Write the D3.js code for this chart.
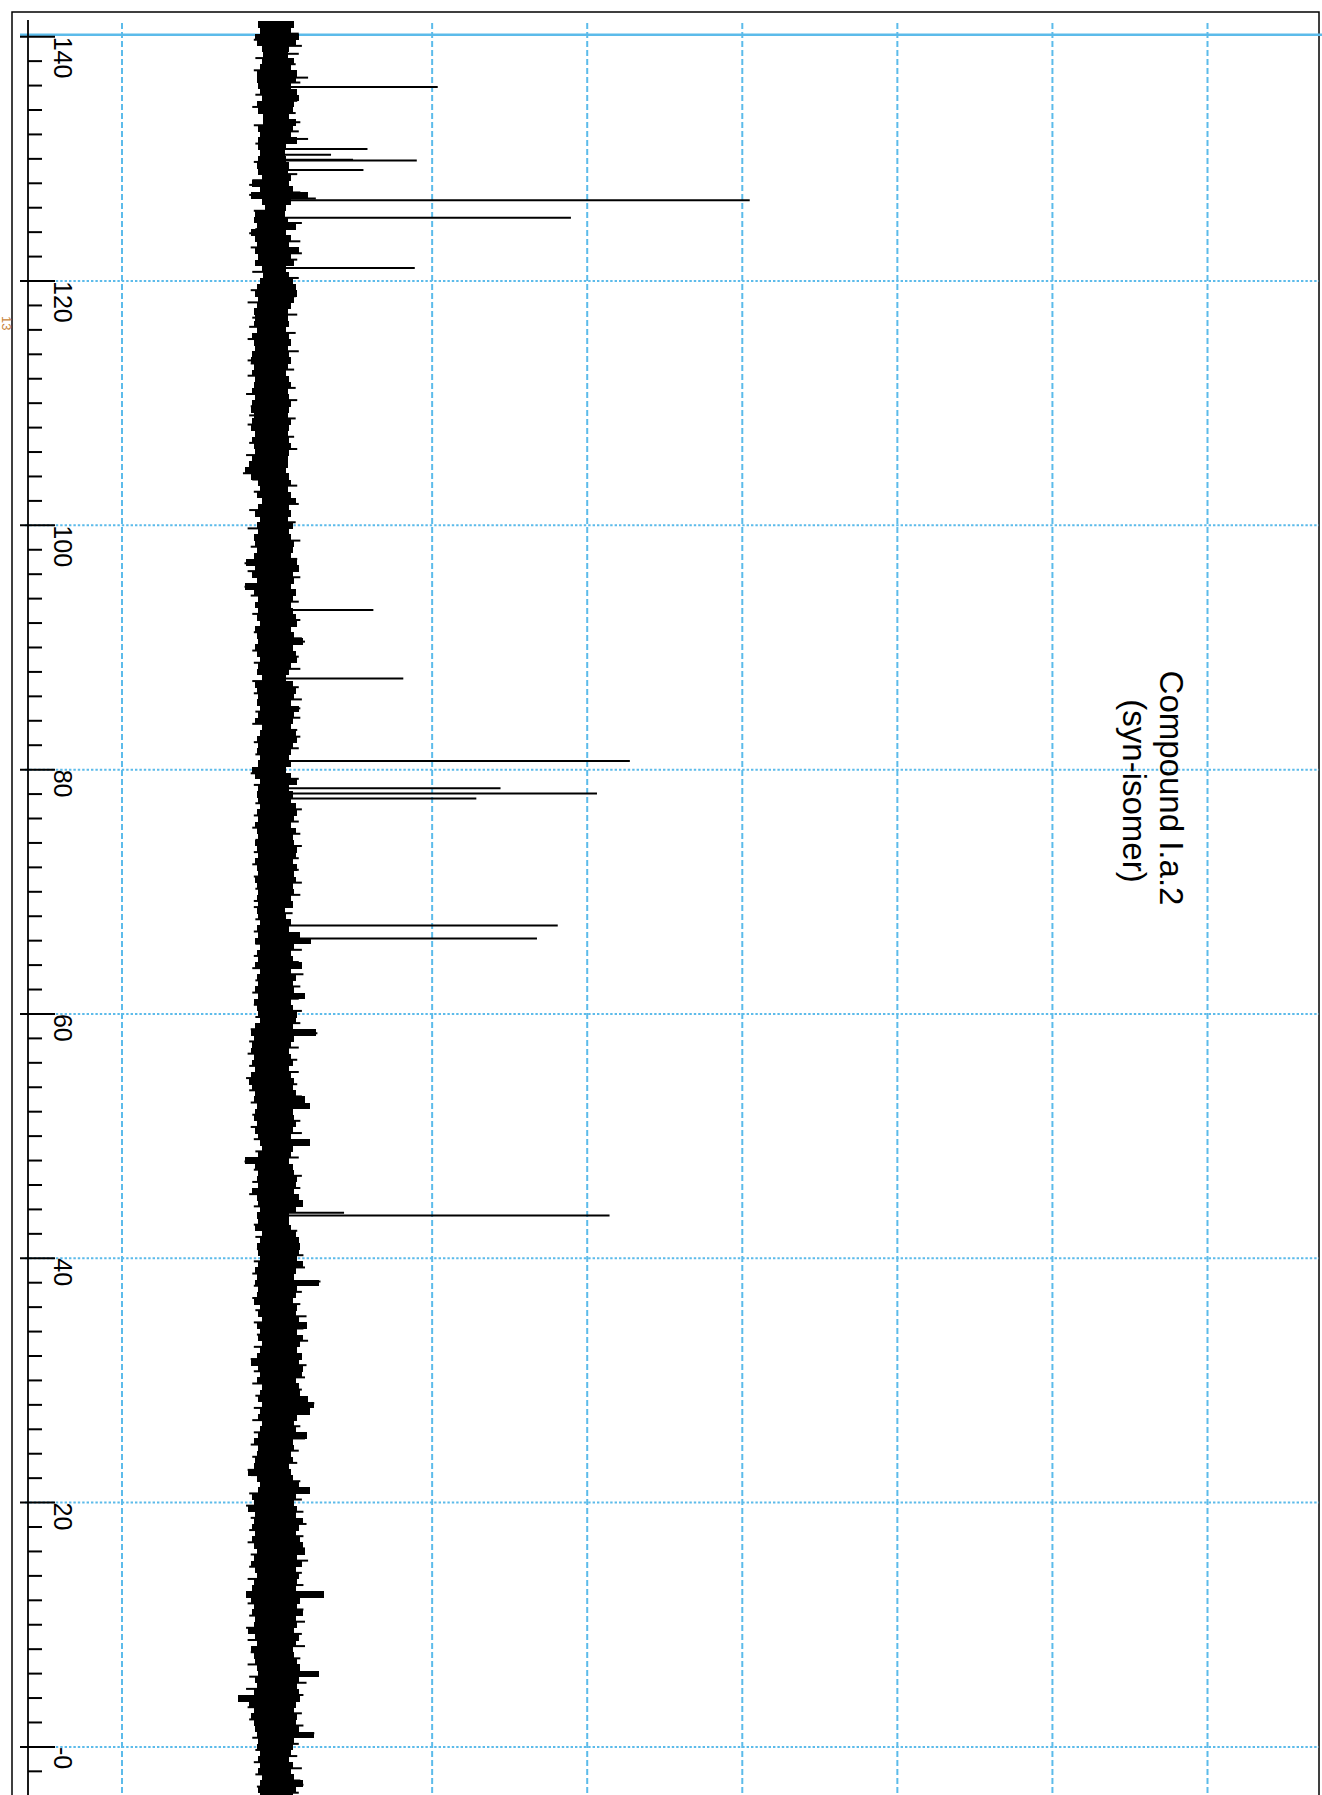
<!DOCTYPE html>
<html><head><meta charset="utf-8">
<script src="https://cdn.jsdelivr.net/npm/d3@7"></script>
<style>html,body{margin:0;padding:0;background:#fff;} svg{display:block;}</style>
</head><body>
<script>
// ---- data (ppm axis, intensity in arbitrary units; 100 units = one vertical grid step)
const ppmMajorTicks = [140,120,100,80,60,40,20,0];
const ppmTickLabels = ["140","120","100","80","60","40","20","-0"];
const ppmGridLines  = [120,100,80,60,40,20,0];
const ppmTopLine    = 140;
const intensityGrid = [-100,0,100,200,300,400,500,600];

const peakPpm = [135.88,130.81,130.34,129.93,129.86,129.08,126.75,126.61,125.17,121.06,93.07,87.46,80.71,78.47,78.05,77.64,67.24,66.18,43.73,43.50];
const peakInt = [103.6,58.3,34.8,49,90.1,55.7,25,304.8,189.5,88.8,62.1,81.4,227.5,144.1,206.3,128.5,181.0,167.6,43.2,214.4];

// baseline noise envelope, sampled every 0.5 ppm from 141.0 down to -4.0
const noiseStartPpm = 141.0, noiseStepPpm = 0.5;
const noiseLo = [-12,-11,-14,-13,-10,-9,-10,-11,-13,-13,-12,-11,-10,-13,-12,-9,-9,-12,-11,-12,-12,-11,-12,-13,-12,-10,-16,-11,-17,-10,-8,-14,-15,-13,-17,-14,-13,-14,-12,-14,-10,-9,-11,-13,-14,-12,-13,-15,-14,-15,-13,-16,-15,-14,-16,-17,-15,-16,-14,-15,-16,-14,-16,-17,-15,-16,-17,-14,-16,-15,-14,-16,
-18,-21,-17,-12,-11,-13,-10,-12,-14,-11,-13,-12,-15,-14,-13,-15,-20,-14,-16,-13,-21,-15,-12,-14,-12,-13,-11,-14,-13,-12,-14,-13,-11,-12,-13,-10,-14,-13,-12,-13,-11,-12,-14,-10,-11,-13,-12,-13,-11,-12,-16,-14,-11,-12,-13,-12,-11,-13,-12,-14,-13,-12,-14,-13,-12,-14,-13,-12,-14,-13,-12,-13,-12,
-13,-12,-11,-13,-12,-14,-11,-13,-12,-14,-11,-13,-12,-14,-12,-15,-13,-12,-11,-14,-17,-15,-16,-17,-15,-16,-14,-17,-18,-16,-14,-15,-13,-14,-15,-13,-14,-12,-11,-10,-12,-21,-14,-12,-13,-12,-16,-13,-12,-11,-13,-12,-14,-10,-11,-13,-12,-11,-12,-14,-13,-14,-12,-13,-15,-11,-12,-10,-13,-11,-12,-10,-11,
-13,-17,-12,-11,-13,-10,-11,-12,-10,-11,-12,-10,-11,-12,-15,-12,-13,-14,-15,-19,-13,-11,-12,-16,-15,-19,-14,-15,-16,-14,-16,-15,-13,-15,-17,-14,-13,-15,-16,-20,-17,-15,-16,-14,-15,-19,-14,-13,-17,-15,-14,-13,-12,-14,-13,-15,-25,-18,-15,-17,-15,-14,-13,-12,-13,-11,-12,-11,-12,-10,-11,-12,-11];
const noiseHi = [11,9,14,12,8,7,11,9,13,12,9,13,14,11,10,8,12,10,9,13,6,5,6,8,7,9,8,10,20,9,6,5,7,12,6,9,8,14,9,11,6,8,10,12,13,11,9,7,7,8,6,8,9,7,8,9,7,6,8,9,7,8,9,8,7,9,8,7,8,9,8,7,
7,6,8,9,7,9,12,8,9,7,10,8,9,11,10,9,13,14,10,11,9,12,10,9,10,12,13,9,11,17,10,12,13,9,8,6,10,12,11,9,14,11,10,9,12,13,10,9,8,9,6,9,13,8,10,9,12,13,11,9,12,10,11,13,12,10,13,11,12,10,11,9,10,
5,6,9,8,15,22,11,9,10,16,9,12,10,11,18,9,10,13,12,10,25,11,9,8,9,10,8,9,11,10,12,18,21,10,11,12,10,9,21,10,9,8,10,11,13,12,11,14,17,12,8,8,9,12,14,15,14,13,17,12,11,27,13,12,10,13,12,14,19,13,17,15,13,
16,14,17,16,12,14,15,20,24,21,13,11,12,19,10,11,9,10,8,9,10,14,21,12,11,13,12,17,14,12,15,17,18,13,16,12,14,13,12,30,15,13,17,12,13,11,14,12,10,11,13,15,27,14,13,14,15,12,11,13,12,14,24,11,10,9,8,10,9,11,17,12,10];

// thin noise spikes reaching beyond the envelope
const spikePpm = [138.6,136.65,133.0,131.63,127.87,127.05,123.91,122.27,117.0,113.5,109.0,104.26,96.89,94.98,96.5,90.48,85.02,82.7,79.7,71.8,58.43,52.42,49.28,47.92,38.1,28.13,22.68,21.18,12.31,12.45,6.03,3.99,1.12,-3.1,
140.25,139.75,139.25,138.25,137.75,137.25,136.25,135.25,134.75,134.25,133.75,132.75,132.25,131.25,129.75,128.75,128.25,127.25,125.75,124.75,124.25,123.25,122.75,121.75,120.75,120.25,119.25,118.75,118.25,117.25,116.25,115.75,115.25,114.25,113.25,112.75,112.25,111.25,110.75,110.25,109.75,108.75,108.25,107.25,106.75,106.25,105.75,
103.75,103.25,102.75,101.75,101.25,100.25,99.75,98.75,98.25,97.25,96.25,95.75,94.25,93.75,92.75,92.25,91.25,90.75,89.75,89.25,88.75,88.25,87.25,86.75,86.25,85.75,84.75,84.25,83.75,83.25,82.25,81.75,81.25,79.25,78.75,77.25,76.75,76.25,75.75,75.25,74.75,74.25,73.75,73.25,72.75,72.25,71.25,70.75,70.25,69.75,69.25,
68.75,68.25,67.75,66.75,65.75,65.25,64.75,64.25,63.75,63.25,62.75,62.25,61.75,61.25,60.75,60.25,59.75,59.25,58.75,57.75,57.25,56.75,56.25,55.75,55.25,54.75,54.25,53.75,53.25,52.75,51.75,51.25,50.75,50.25,49.75,48.75,48.25,47.25,46.75,46.25,45.75,45.25,44.75,44.25,42.75,42.25,41.75,41.25,40.75,40.25,39.75,39.25,38.75,37.75,37.25,36.75,36.25,35.75,35.25,34.75,34.25,33.75,33.25,32.75,
31.75,31.25,30.75,30.25,29.75,29.25,28.75,27.75,27.25,26.75,26.25,25.75,25.25,24.75,24.25,23.75,23.25,22.25,21.75,20.75,20.25,19.75,19.25,18.75,18.25,17.75,17.25,16.75,16.25,15.75,15.25,14.75,14.25,13.75,13.25,11.75,11.25,10.75,10.25,9.75,9.25,8.75,8.25,7.75,7.25,6.75,5.75,5.25,4.75,4.25,3.25,2.75,2.25,1.75,0.75,0.25,-0.25,-0.75,-1.25,-1.75,-2.25,-2.75,-3.25,-3.75];
const spikeInt = [14,20,15,20,-18,-18,-18,16,-16,-19,-18,-22,-21,-21,14,18,15,15,-17,14,26,21,21,-21,28,24,-19,21,-20,30,27,-25,24,17,
14,-15,16,-14,12,-15,15,-14,13,-16,12,-15,14,-14,-15,13,-16,15,-15,16,-14,15,-17,13,-16,14,-17,12,-19,13,-18,12,-19,14,-17,11,-19,12,-20,13,-17,12,-19,11,-18,13,-20,
-16,13,-15,14,-18,12,-19,15,-17,13,-19,15,-17,14,-16,15,-15,16,-16,14,-15,15,-16,14,-15,16,-14,15,-16,13,-15,14,-14,14,-15,-14,16,-15,14,-16,15,-14,16,-15,14,-16,-15,16,-14,15,-15,
-15,10,-14,-15,-14,16,-15,14,-16,17,-14,15,-16,14,-15,16,-14,15,-17,-18,14,-19,13,-18,14,-20,13,-18,16,-17,-16,15,-17,16,-15,-14,14,-15,16,-16,15,-18,14,-15,-15,13,-14,14,-13,17,-15,18,-16,-15,16,-16,15,-14,19,-15,17,-13,20,-15,
-17,19,-15,18,-16,16,-14,-15,17,-16,15,-15,18,-17,14,-16,13,-17,15,-18,16,-20,17,-17,19,-18,17,-19,18,-17,20,-18,16,-19,17,-19,17,-18,18,-20,16,-19,18,-17,15,-19,-18,19,-20,17,-19,16,-18,17,-16,14,-14,13,-15,16,-14,15,-13,14];

const titleLines = ["Compound I.a.2","(syn-isomer)"];

// ---- drawing
const W = 1322, H = 1795;
const blue = "#5cbbea";
const svg = d3.select("body").append("svg").attr("width", W).attr("height", H);
const y = d3.scaleLinear().domain([140, 0]).range([36.7, 1746.9]);
const x = d3.scaleLinear().domain([-100, 600]).range([122, 1207.5]);

// frame
svg.append("rect").attr("x", 12).attr("y", 12).attr("width", 1307).attr("height", 1800)
  .attr("fill", "none").attr("stroke", "#000").attr("stroke-width", 1.5);

// vertical dashed grid
svg.append("g").selectAll("line").data(intensityGrid).join("line")
  .attr("x1", d => x(d)).attr("x2", d => x(d)).attr("y1", 23).attr("y2", H)
  .attr("stroke", blue).attr("stroke-width", 2).attr("stroke-dasharray", "6,3");

// horizontal dotted grid
svg.append("g").selectAll("line").data(ppmGridLines).join("line")
  .attr("x1", 25).attr("x2", 1319).attr("y1", d => y(d)).attr("y2", d => y(d))
  .attr("stroke", blue).attr("stroke-width", 2).attr("stroke-dasharray", "2.4,2");

// solid top line
svg.append("line").attr("x1", 20).attr("x2", W).attr("y1", y(ppmTopLine) - 2).attr("y2", y(ppmTopLine) - 2)
  .attr("stroke", blue).attr("stroke-width", 2.5);

// noise envelope
const noise = noiseLo.map((lo, i) => ({ppm: noiseStartPpm - i * noiseStepPpm, lo, hi: noiseHi[i]}));
svg.append("g").attr("shape-rendering", "crispEdges").selectAll("rect").data(noise).join("rect")
  .attr("x", d => x(d.lo)).attr("width", d => x(d.hi) - x(d.lo))
  .attr("y", d => y(d.ppm + noiseStepPpm / 2)).attr("height", d => y(d.ppm - noiseStepPpm / 2) - y(d.ppm + noiseStepPpm / 2) + 0.5)
  .attr("fill", "#000");

// spikes
svg.append("g").selectAll("line").data(spikePpm.map((p, i) => ({p, v: spikeInt[i]}))).join("line")
  .attr("x1", x(0)).attr("x2", d => x(d.v)).attr("y1", d => y(d.p)).attr("y2", d => y(d.p))
  .attr("stroke", "#000").attr("stroke-width", 2);

// peaks
svg.append("g").selectAll("line").data(peakPpm.map((p, i) => ({p, v: peakInt[i]}))).join("line")
  .attr("x1", x(0)).attr("x2", d => x(d.v)).attr("y1", d => y(d.p)).attr("y2", d => y(d.p))
  .attr("stroke", "#000").attr("stroke-width", 2);

// ppm axis
const minorTicks = d3.range(140, -3, -2);
svg.append("line").attr("x1", 28).attr("x2", 28).attr("y1", 20).attr("y2", H)
  .attr("stroke", "#000").attr("stroke-width", 1.8);
svg.append("g").selectAll("line").data(minorTicks.filter(t => t % 20 !== 0)).join("line")
  .attr("x1", 28).attr("x2", 42).attr("y1", d => y(d)).attr("y2", d => y(d))
  .attr("stroke", "#000").attr("stroke-width", 2);
svg.append("g").selectAll("line").data(ppmMajorTicks).join("line")
  .attr("x1", 20).attr("x2", 55).attr("y1", d => y(d)).attr("y2", d => y(d))
  .attr("stroke", "#000").attr("stroke-width", 2);
svg.append("g").selectAll("text").data(ppmMajorTicks).join("text")
  .attr("transform", d => `translate(54,${y(d)}) rotate(90)`)
  .attr("font-family", "Liberation Sans, Arial, sans-serif").attr("font-size", 25)
  .attr("fill", "#000").text((d, i) => ppmTickLabels[i]);

// title
const titleX = [1160, 1123], titleY = [788, 791];
svg.append("g").selectAll("text").data(titleLines).join("text")
  .attr("transform", (d, i) => `translate(${titleX[i]},${titleY[i]}) rotate(90)`)
  .attr("text-anchor", "middle").attr("font-family", "Liberation Sans, Arial, sans-serif")
  .attr("font-size", 33).attr("fill", "#000").text(d => d);

// clipped margin note
svg.append("text").attr("transform", "translate(2,316) rotate(90)")
  .attr("font-family", "Liberation Sans, Arial, sans-serif").attr("font-size", 13)
  .attr("fill", "#c8843a").text("13");
</script>
</body></html>
